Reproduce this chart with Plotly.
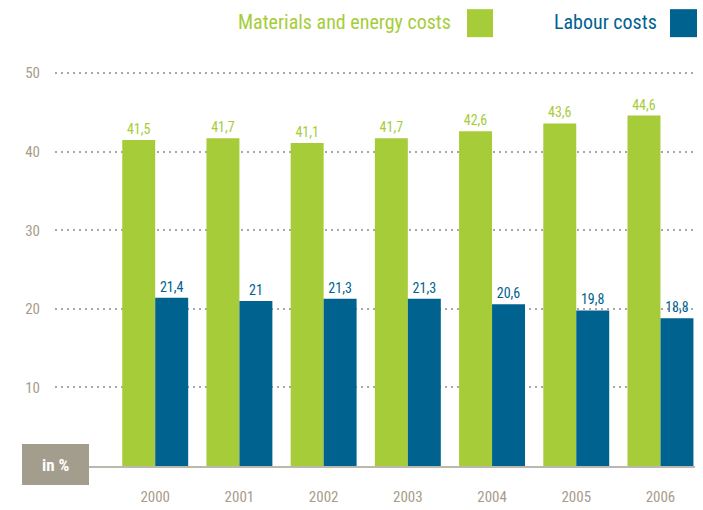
import plotly.graph_objects as go

years = ["2000", "2001", "2002", "2003", "2004", "2005", "2006"]
materials = [41.5, 41.7, 41.1, 41.7, 42.6, 43.6, 44.6]
labour = [21.4, 21.0, 21.3, 21.3, 20.6, 19.8, 18.8]
y_ticks = [10, 20, 30, 40, 50]

GREEN = "#a6cd39"
BLUE = "#00628f"
TAN = "#a99b8b"
FONT = "Liberation Sans Narrow, Arial Narrow, Roboto Condensed, Roboto, sans-serif"

W, H = 703, 510
YMAX = 50.4
L, R, B = 55, 8, 44
ph = (H - B - 73) * YMAX / 50.0
T = H - B - ph
pw = W - L - R

def px_x(p):
    return (p - L) / pw

def px_y(p):
    return (H - B - p) / ph

fig = go.Figure()
fig.add_trace(go.Bar(x=years, y=materials, name="Materials and energy costs",
                     marker=dict(color=GREEN, line=dict(width=0)),
                     texttemplate="%{y}", textposition="outside",
                     textfont=dict(color=GREEN, size=14, family=FONT),
                     cliponaxis=False))
fig.add_trace(go.Bar(x=years, y=labour, name="Labour costs",
                     marker=dict(color=BLUE, line=dict(width=0)),
                     texttemplate="%{y}", textposition="outside",
                     textfont=dict(color=BLUE, size=14, family=FONT),
                     cliponaxis=False))

fig.update_layout(
    width=W, height=H,
    margin=dict(l=L, r=R, t=T, b=B, pad=0, autoexpand=False),
    paper_bgcolor="white", plot_bgcolor="white",
    barmode="group", bargap=0.217, bargroupgap=0,
    separators=", ",
    showlegend=False,
    font=dict(family=FONT, color=TAN, size=15),
)
fig.update_xaxes(range=[-1.19, 6.41], showgrid=False, showline=True,
                 linecolor="#bdb8ae", linewidth=2, ticks="",
                 ticklabelstandoff=16, tickfont=dict(size=15, color=TAN, family=FONT),
                 fixedrange=True, automargin=False)
fig.update_yaxes(range=[0, YMAX], tickvals=y_ticks, showgrid=True,
                 gridcolor="#a8a8a8", gridwidth=2, griddash="2px,4px",
                 zeroline=False, showline=False, ticks="",
                 ticklabelstandoff=14, tickfont=dict(size=15, color=TAN, family=FONT),
                 fixedrange=True, automargin=False)

# "in %" box
fig.add_shape(type="rect", xref="paper", yref="paper",
              x0=px_x(22), x1=px_x(89), y0=px_y(485), y1=px_y(444),
              fillcolor="#a39d8d", line=dict(width=0), layer="above")
fig.add_annotation(xref="paper", yref="paper", x=px_x(55.5), y=px_y(465),
                   text="<b>in %</b>", showarrow=False, xanchor="center", yanchor="middle",
                   font=dict(color="white", size=17, family=FONT))

# custom legend (text then square)
fig.add_annotation(xref="paper", yref="paper", x=px_x(453), y=px_y(22),
                   text="Materials and energy costs", showarrow=False,
                   xanchor="right", yanchor="middle",
                   font=dict(color=GREEN, size=20, family=FONT))
fig.add_shape(type="rect", xref="paper", yref="paper",
              x0=px_x(467), x1=px_x(493), y0=px_y(37), y1=px_y(9),
              fillcolor=GREEN, line=dict(width=0))
fig.add_annotation(xref="paper", yref="paper", x=px_x(659), y=px_y(22),
                   text="Labour costs", showarrow=False,
                   xanchor="right", yanchor="middle",
                   font=dict(color=BLUE, size=20, family=FONT))
fig.add_shape(type="rect", xref="paper", yref="paper",
              x0=px_x(670), x1=px_x(697), y0=px_y(37), y1=px_y(9),
              fillcolor=BLUE, line=dict(width=0))

fig.write_html("out.html",
               config={"displayModeBar": False},
               post_script="document.body.style.margin='0';document.body.style.padding='0';")
